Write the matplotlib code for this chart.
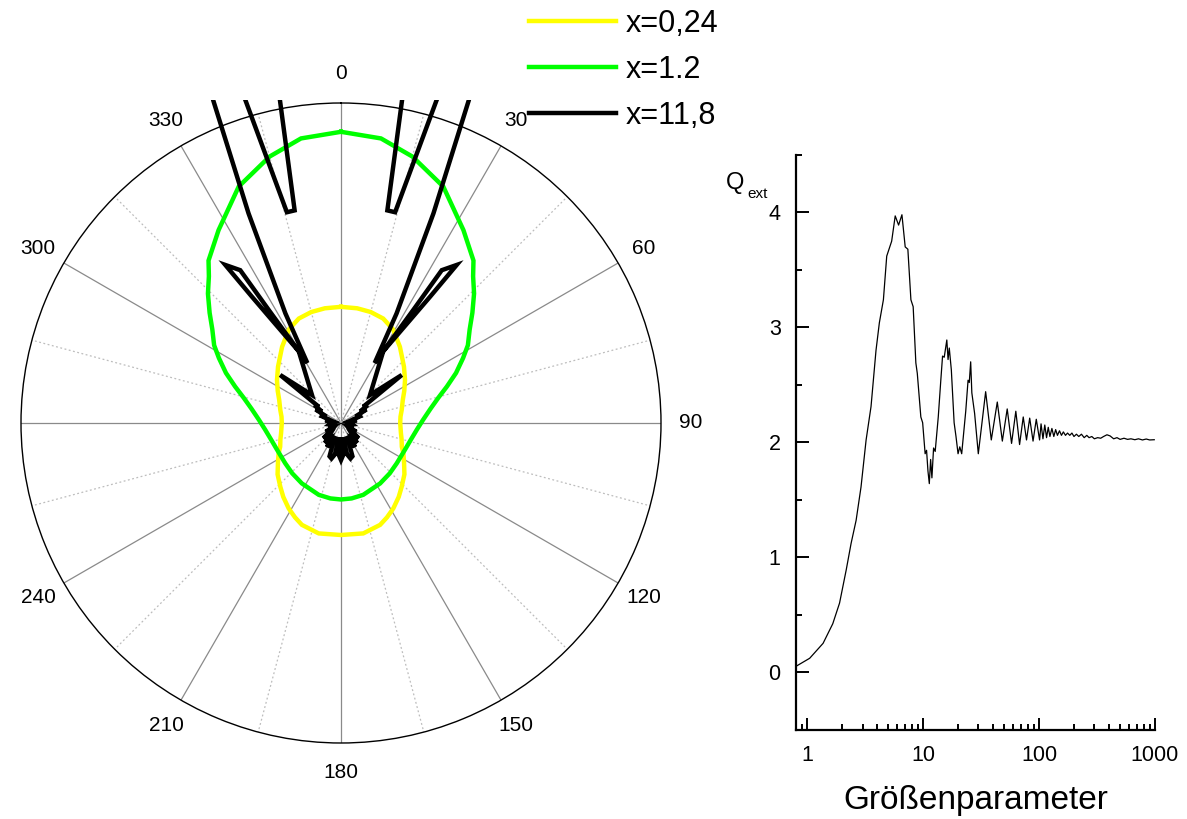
import numpy as np
import matplotlib.pyplot as plt
from matplotlib.patches import Rectangle
from matplotlib.ticker import FixedLocator, MultipleLocator, LogLocator, NullFormatter, FuncFormatter

plt.rcParams['font.family'] = ['Liberation Sans', 'DejaVu Sans']

# scattering diagrams, right half (deg clockwise from forward direction); left half is the mirror
yellow_theta = [0, 8, 15, 22, 29, 37.7, 48.2, 56.1, 63, 69.6, 77.9, 83.9, 90, 99.7, 105, 111.3, 116,
                122.6, 129, 136.4, 142, 148.5, 154, 159, 168.6, 180]
yellow_r = [0.363, 0.362, 0.359, 0.352, 0.335, 0.301, 0.264, 0.241, 0.222, 0.206, 0.194, 0.187, 0.185,
            0.190, 0.196, 0.204, 0.217, 0.234, 0.255, 0.275, 0.293, 0.313, 0.328, 0.341, 0.352, 0.350]

green_theta = [0, 8, 15, 23.4, 32.4, 39.2, 42, 45.8, 50, 54, 58.5, 62, 66.5, 71, 75.5, 81, 88, 95,
               103.8, 112, 125.9, 136, 147.1, 162.8, 172, 180]
green_r = [0.910, 0.898, 0.862, 0.805, 0.714, 0.655, 0.617, 0.580, 0.536, 0.497, 0.465, 0.432, 0.392,
           0.350, 0.314, 0.283, 0.256, 0.238, 0.224, 0.217, 0.215, 0.219, 0.225, 0.235, 0.238, 0.239]

black_theta = [0, 8, 10.7, 12.3, 14.4, 16.5, 19.0, 21.6, 23.8, 26.9, 29.3, 32.6, 33.4, 36.2, 35.2,
               30.5, 46, 51.7, 53.8, 56, 59, 62, 66, 70, 75, 80, 86, 90, 96, 102, 108, 114, 120,
               126, 131, 136, 141, 146, 150, 155, 161, 165, 169, 172, 176, 180]
black_r = [1.6, 1.4, 1.03, 0.68, 0.68, 1.054, 1.4, 1.085, 0.716, 0.384, 0.215, 0.42, 0.572, 0.612, 0.483,
           0.26, 0.126, 0.242, 0.086, 0.10, 0.07, 0.09, 0.05, 0.07, 0.035, 0.05, 0.025, 0.03, 0.035, 0.02,
           0.04, 0.025, 0.055, 0.04, 0.073, 0.05, 0.08, 0.06, 0.087, 0.045, 0.11, 0.115, 0.10, 0.045,
           0.10, 0.116]

labels = ["x=0,24", "x=1.2", "x=11,8"]
colors = ["#ffff00", "#00ff00", "#000000"]

angle_ticks = list(range(0, 360, 30))
angle_labels = ["0", "30", "60", "90", "120", "150", "180", "210", "240", "", "300", "330"]

# extinction efficiency vs size parameter
size_param = [0.80, 1.05, 1.37, 1.66, 1.90, 2.17, 2.39, 2.64, 2.91, 3.22, 3.55, 3.92, 4.19, 4.54, 4.85,
              5.35, 5.74, 6.14, 6.56, 7.0, 7.38, 7.84, 8.2, 8.65, 8.9, 9.55, 9.9, 10.4, 10.7, 11.0,
              11.3, 11.6, 11.9, 12.3, 12.7, 13.5, 14.2, 14.7, 15.2, 16.0, 16.4, 16.8, 17.5, 18.5,
              19.2, 20.0, 20.7, 21.5, 23.3, 24.4, 25.0, 25.7, 26.3, 27.8, 29.9, 32.0, 34.6, 38.7,
              43.6, 48.2, 53.1, 57.9, 63.0, 67.9, 73.0, 77.9, 83.0, 88.7, 94.6, 101, 104, 108, 112,
              116, 120, 124, 129, 134, 139, 144, 150, 156, 162, 169, 176, 184, 192, 200, 210, 220,
              232, 245, 258, 270, 285, 300, 320, 340, 360, 385, 410, 440, 470, 500, 540, 580, 620,
              670, 720, 780, 840, 900, 985]
q_ext = [0.05, 0.12, 0.25, 0.42, 0.60, 0.89, 1.12, 1.32, 1.61, 2.02, 2.31, 2.80, 3.04, 3.24, 3.62,
         3.75, 3.97, 3.89, 3.98, 3.70, 3.68, 3.24, 3.18, 2.69, 2.60, 2.22, 2.17, 1.90, 1.93, 1.75,
         1.64, 1.85, 1.69, 1.95, 1.92, 2.22, 2.54, 2.75, 2.74, 2.89, 2.72, 2.82, 2.63, 2.17,
         2.05, 1.90, 1.96, 1.90, 2.27, 2.54, 2.52, 2.70, 2.43, 2.25, 1.90, 2.15, 2.44, 2.02,
         2.35, 2.01, 2.29, 1.99, 2.27, 1.98, 2.22, 2.02, 2.21, 2.01, 2.20, 2.02, 2.16, 2.03, 2.15,
         2.04, 2.13, 2.05, 2.12, 2.05, 2.11, 2.06, 2.10, 2.06, 2.09, 2.06, 2.08, 2.06, 2.08, 2.05, 2.07, 2.05,
         2.07, 2.04, 2.06, 2.04, 2.05, 2.03, 2.04, 2.035, 2.05, 2.065, 2.055, 2.03, 2.04, 2.025, 2.035, 2.025, 2.03,
         2.022, 2.03, 2.02, 2.028, 2.02, 2.022]


def mirror(theta, r):
    # right half plus its reflection about the forward axis
    t = list(theta) + [360 - a for a in reversed(theta[:-1])]
    rr = list(r) + list(reversed(r[:-1]))
    return np.radians(t), np.array(rr)


W, H = 1187, 819
fig = plt.figure(figsize=(W / 100, H / 100), dpi=100)

ax = fig.add_axes([21 / W, 1 - 743 / H, 640 / W, 640 / H], projection="polar")
ax.set_theta_zero_location("N")
ax.set_theta_direction(-1)
ax.set_ylim(0, 1)
ax.set_yticks([])
ax.xaxis.set_major_locator(FixedLocator(np.radians(angle_ticks)))
ax.xaxis.set_minor_locator(FixedLocator(np.radians(np.arange(15, 360, 30))))
ax.set_xticklabels([])
ax.xaxis.grid(True, which="major", color="#8a8a8a", lw=0.9, ls="-")
ax.xaxis.grid(True, which="minor", color="#bdbdbd", lw=0.9, ls=(0, (1.5, 2)))
ax.tick_params(axis="x", which="major", direction="in", length=7, width=1, color="black")
ax.tick_params(axis="x", which="minor", direction="in", length=4, width=1, color="black")
ax.spines["polar"].set_linewidth(1.0)

for a, lab in zip(angle_ticks, angle_labels):
    ax.text(np.radians(a), 1.093, lab, ha="center", va="center", fontsize=15, clip_on=False)

# curves may run past the outer circle; only the strip above the frame is cut off
top_clip = Rectangle((0, 0), 1, 1 - 100 / H, transform=fig.transFigure, facecolor="none")
handles = []
for (th, rr), lab, col in zip([(yellow_theta, yellow_r), (green_theta, green_r), (black_theta, black_r)],
                              labels, colors):
    t, r = mirror(th, rr)
    ln, = ax.plot(t, r, color=col, lw=3.2, label=lab, solid_joinstyle="miter")
    ln.set_clip_box(fig.bbox)
    ln.set_clip_path(top_clip)
    ln.set_clip_on(True)
    handles.append(ln)

fig.legend(handles=handles, loc="upper left", bbox_to_anchor=(529 / W, 1 - 9 / H), frameon=False,
           fontsize=22, handlelength=2.85, handletextpad=0.3, labelspacing=0.52, borderpad=0,
           borderaxespad=0)

ax2 = fig.add_axes([796 / W, 1 - 729.5 / H, 359 / W, 574.5 / H])
ax2.plot(size_param, q_ext, color="black", lw=0.9)
ax2.set_xscale("log")
ax2.set_xlim(0.8, 1000)
ax2.set_ylim(-0.5, 4.5)
ax2.set_yticks([0, 1, 2, 3, 4])
ax2.yaxis.set_minor_locator(MultipleLocator(0.5))
ax2.xaxis.set_major_locator(FixedLocator([1, 10, 100, 1000]))
ax2.xaxis.set_major_formatter(FuncFormatter(lambda v, p: "%d" % v))
ax2.xaxis.set_minor_locator(LogLocator(base=10, subs=np.arange(2, 10), numticks=20))
ax2.xaxis.set_minor_formatter(NullFormatter())
for s in ["top", "right"]:
    ax2.spines[s].set_visible(False)
for s in ["left", "bottom"]:
    ax2.spines[s].set_linewidth(1.6)
ax2.tick_params(which="major", direction="in", length=9, width=1.4, labelsize=15.5)
ax2.tick_params(which="minor", direction="in", length=4.5, width=1.4)
ax2.tick_params(axis="y", pad=11)
ax2.tick_params(axis="x", pad=11)
ax2.set_xlabel("Größenparameter", fontsize=24, labelpad=14)

fig.text(726 / W, 1 - 189 / H, "Q", fontsize=17, va="baseline", ha="left")
fig.text(747 / W, 1 - 198 / H, "ext", fontsize=11, va="baseline", ha="left")

fig.savefig("out.png", dpi=100)
